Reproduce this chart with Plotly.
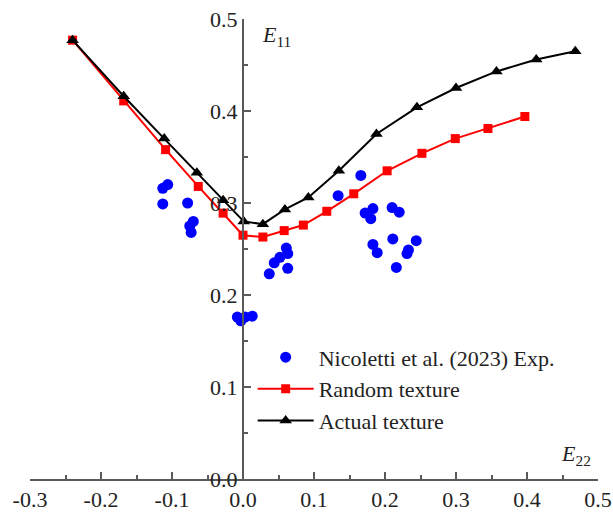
import plotly.graph_objects as go

# Experimental measurements (Nicoletti et al. 2023)
exp_e22 = [-0.113, -0.106, -0.113, -0.078, -0.070, -0.075, -0.073,
           -0.008, -0.003, 0.003, 0.013,
           0.037, 0.044, 0.052, 0.061, 0.063, 0.063,
           0.166, 0.134, 0.172, 0.183, 0.180, 0.210, 0.220,
           0.183, 0.189, 0.211, 0.244, 0.233, 0.231, 0.216]
exp_e11 = [0.316, 0.320, 0.299, 0.300, 0.280, 0.275, 0.268,
           0.176, 0.172, 0.176, 0.177,
           0.223, 0.235, 0.241, 0.251, 0.245, 0.229,
           0.330, 0.308, 0.289, 0.294, 0.283, 0.295, 0.290,
           0.255, 0.246, 0.261, 0.259, 0.249, 0.245, 0.230]

# Simulation with random texture
rand_e22 = [-0.240, -0.168, -0.109, -0.063, -0.028, 0.000, 0.028, 0.058,
            0.085, 0.118, 0.156, 0.203, 0.252, 0.299, 0.345, 0.397]
rand_e11 = [0.477, 0.411, 0.358, 0.318, 0.289, 0.265, 0.263, 0.270,
            0.276, 0.291, 0.310, 0.335, 0.354, 0.370, 0.381, 0.394]

# Simulation with actual texture
act_e22 = [-0.240, -0.168, -0.111, -0.065, -0.028, 0.001, 0.028, 0.059,
           0.092, 0.135, 0.188, 0.245, 0.300, 0.357, 0.413, 0.468]
act_e11 = [0.477, 0.416, 0.370, 0.333, 0.303, 0.280, 0.277, 0.293,
           0.306, 0.335, 0.375, 0.404, 0.425, 0.443, 0.456, 0.465]

x_ticks = [-0.3, -0.2, -0.1, 0.0, 0.1, 0.2, 0.3, 0.4, 0.5]
y_ticks = [0.0, 0.1, 0.2, 0.3, 0.4, 0.5]

FONT = "Liberation Serif"
TEXT_COLOR = "#222222"
AXIS_COLOR = "#5a5a5a"
FS = 22

fig = go.Figure()
fig.add_trace(go.Scatter(
    x=exp_e22, y=exp_e11, mode="markers", name="Nicoletti et al. (2023) Exp.",
    legendgroup="a",
    marker=dict(symbol="circle", size=11, color="#0000ff")))
fig.add_trace(go.Scatter(
    x=rand_e22, y=rand_e11, mode="lines+markers", name="Random texture",
    legendgroup="b",
    line=dict(color="#ff0000", width=2),
    marker=dict(symbol="square", size=9, color="#ff0000")))
fig.add_trace(go.Scatter(
    x=act_e22, y=act_e11, mode="lines+markers", name="Actual texture",
    legendgroup="c",
    line=dict(color="#000000", width=2),
    marker=dict(symbol="triangle-up", size=11, color="#000000")))

fig.update_layout(
    width=613, height=513,
    margin=dict(l=30, r=15, t=19, b=34, autoexpand=False),
    paper_bgcolor="white", plot_bgcolor="white",
    font=dict(family=FONT, size=FS, color=TEXT_COLOR),
    showlegend=True,
    legend=dict(x=0.392, y=0.31, xanchor="left", yanchor="top",
                bgcolor="rgba(0,0,0,0)", tracegroupgap=0, itemwidth=56,
                font=dict(family=FONT, size=FS, color=TEXT_COLOR)),
    xaxis=dict(
        range=[-0.3, 0.5], tickvals=x_ticks, ticktext=[f"{v:.1f}" for v in x_ticks],
        automargin=False,
        showgrid=False, zeroline=False, showline=True, linecolor=AXIS_COLOR,
        linewidth=2, ticks="inside", ticklen=7, tickwidth=1.5, tickcolor=AXIS_COLOR,
        minor=dict(ticks="inside", dtick=0.05, tick0=0, ticklen=4,
                   tickwidth=1.5, tickcolor=AXIS_COLOR),
        tickfont=dict(family=FONT, size=FS, color=TEXT_COLOR),
    ),
    yaxis=dict(
        range=[0, 0.5], tickvals=y_ticks, ticktext=[f"{v:.1f}" for v in y_ticks],
        anchor="free", position=0.375, automargin=False,
        showgrid=False, zeroline=False, showline=True, linecolor=AXIS_COLOR,
        linewidth=2, ticks="inside", ticklen=7, tickwidth=1.5, tickcolor=AXIS_COLOR,
        minor=dict(ticks="inside", dtick=0.05, tick0=0, ticklen=4,
                   tickwidth=1.5, tickcolor=AXIS_COLOR),
        tickfont=dict(family=FONT, size=FS, color=TEXT_COLOR),
    ),
    annotations=[
        dict(x=0.024, y=0.481, xref="x", yref="y", xanchor="left", yanchor="middle",
             text="<i>E</i><sub>11</sub>", showarrow=False,
             font=dict(family=FONT, size=FS, color=TEXT_COLOR)),
        dict(x=0.445, y=0.026, xref="x", yref="y", xanchor="left", yanchor="middle",
             text="<i>E</i><sub>22</sub>", showarrow=False,
             font=dict(family=FONT, size=FS, color=TEXT_COLOR)),
    ],
)

fig.write_html("out.html")
